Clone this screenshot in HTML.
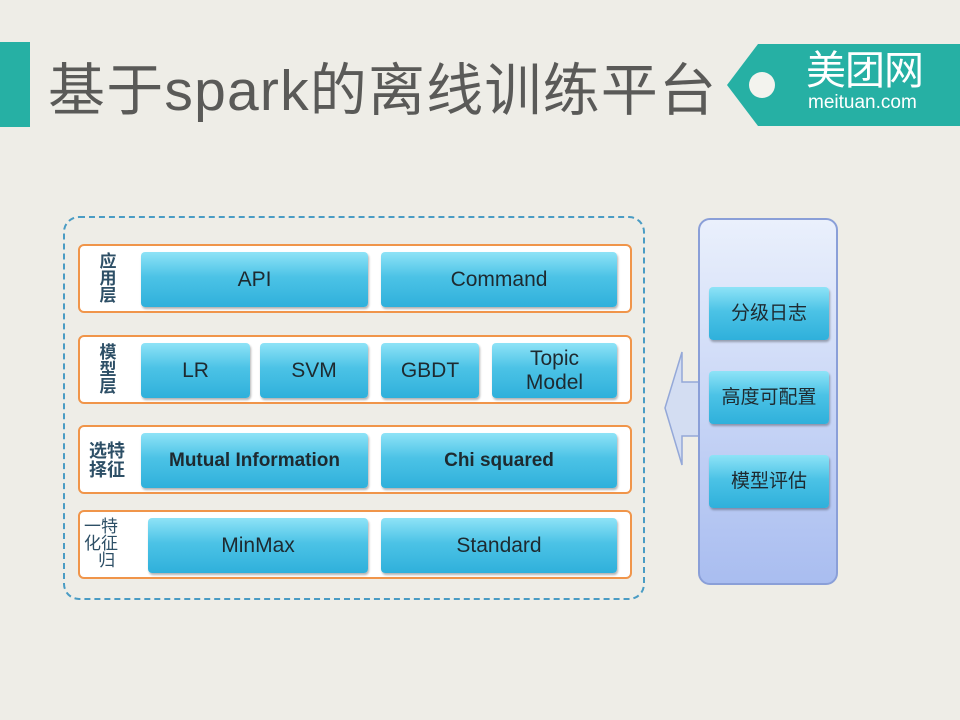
<!DOCTYPE html>
<html><head><meta charset="utf-8"><style>
body{margin:0;width:960px;height:720px;background:#eeede7;position:relative;overflow:hidden;font-family:"Liberation Sans","Noto Sans CJK SC",sans-serif}
.a{position:absolute;box-sizing:border-box}
.title{left:48px;top:56px;font-size:57px;color:#5a5a58;line-height:70px;white-space:nowrap;letter-spacing:1.2px}
.row{border:2.5px solid #f0954a;border-radius:6px;background:#fff;left:78px;width:554px;height:69px}
.b{background:linear-gradient(#8ee3f7,#4cc3e6 45%,#2fb0db);border-radius:4px;box-shadow:1px 2px 2px rgba(0,0,0,.3);display:flex;align-items:center;justify-content:center;font-size:21px;color:#1e2a30;text-align:center;line-height:24px}
.lab{color:#2d4f66;font-weight:bold;font-size:17px;line-height:17px;text-align:center}
.rb{left:709px;width:120px;height:53px;font-size:19px}
</style></head><body>
<div class="a" style="left:0;top:42px;width:30px;height:85px;background:#26b0a4"></div>
<div class="a title">基于spark的离线训练平台</div>
<svg class="a" style="left:720px;top:40px" width="240" height="90"><polygon points="7,45 38,4 240,4 240,86 38,86" fill="#26b0a4"/><circle cx="42" cy="45" r="13" fill="#f3f3ee"/></svg>
<div class="a" style="left:806px;top:49px;font-size:40px;line-height:44px;color:#fff;letter-spacing:-1px">美团网</div>
<div class="a" style="left:808px;top:92px;font-size:19px;color:#fff">meituan.com</div>
<div class="a" style="left:63px;top:216px;width:582px;height:384px;border:2.5px dashed #4a9cc4;border-radius:16px"></div>
<div class="a row" style="top:244px"></div>
<div class="a row" style="top:335px"></div>
<div class="a row" style="top:425px"></div>
<div class="a row" style="top:510px"></div>
<div class="a lab" style="left:98px;top:253px;width:20px">应<br>用<br>层</div>
<div class="a lab" style="left:98px;top:344px;width:20px">模<br>型<br>层</div>
<div class="a lab" style="left:84px;top:442px;width:46px;font-size:18px;line-height:19px">选特<br>择征</div>
<div class="a lab" style="left:84px;top:518px;width:46px;font-weight:normal;font-size:17px;line-height:17px;text-align:left">一特<br>化征<br>&nbsp;&nbsp;&nbsp;归</div>
<div class="a b" style="left:141px;top:252px;width:227px;height:55px">API</div>
<div class="a b" style="left:381px;top:252px;width:236px;height:55px">Command</div>
<div class="a b" style="left:141px;top:343px;width:109px;height:55px">LR</div>
<div class="a b" style="left:260px;top:343px;width:108px;height:55px">SVM</div>
<div class="a b" style="left:381px;top:343px;width:98px;height:55px">GBDT</div>
<div class="a b" style="left:492px;top:343px;width:125px;height:55px">Topic<br>Model</div>
<div class="a b" style="left:141px;top:433px;width:227px;height:55px;font-weight:bold;font-size:19px">Mutual Information</div>
<div class="a b" style="left:381px;top:433px;width:236px;height:55px;font-weight:bold;font-size:19px">Chi squared</div>
<div class="a b" style="left:148px;top:518px;width:220px;height:55px">MinMax</div>
<div class="a b" style="left:381px;top:518px;width:236px;height:55px">Standard</div>
<svg class="a" style="left:660px;top:345px" width="45" height="125"><polygon points="5,63 22,7 22,37 40,37 40,91 22,91 22,120" fill="#d3ddf2" stroke="#94a8d8" stroke-width="1.5"/></svg>
<div class="a" style="left:698px;top:218px;width:140px;height:367px;border:2px solid #8a9fd8;border-radius:12px;background:linear-gradient(#eaf0fc,#a9bdf0)"></div>
<div class="a b rb" style="top:287px">分级日志</div>
<div class="a b rb" style="top:371px">高度可配置</div>
<div class="a b rb" style="top:455px">模型评估</div>
</body></html>
